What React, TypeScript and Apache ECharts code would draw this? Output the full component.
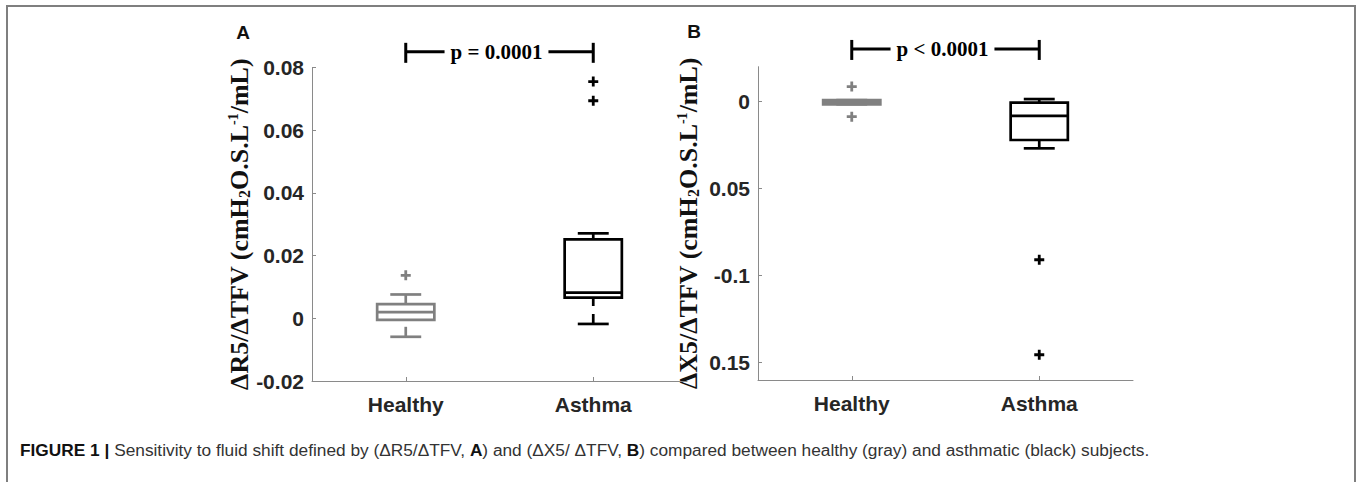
import React, { useEffect, useRef } from "react";
import * as echarts from "echarts";

// ---------- data ----------
const categories = ["Healthy", "Asthma"];

// box stats: [lowWhisker, q1, median, q3, highWhisker]
const boxAHealthy = [-0.0059, -0.0005, 0.002, 0.0045, 0.0076];
const boxAAsthma = [-0.0018, 0.0066, 0.0082, 0.0252, 0.0271];
const outliersAHealthy = [0.0137];
const outliersAAsthma = [0.0755, 0.0694];

const boxBHealthy = [-0.0016, -0.0016, -0.0004, 0.0008, 0.0008];
const boxBAsthma = [-0.0269, -0.0221, -0.0082, -0.0006, 0.0014];
const outliersBHealthy = [0.0086, -0.0087];
const outliersBAsthma = [-0.0909, -0.1455];

const yTicksA = [-0.02, 0, 0.02, 0.04, 0.06, 0.08];
const yTickLabelsA = ["-0.02", "0", "0.02", "0.04", "0.06", "0.08"];
const yTicksB = [-0.15, -0.1, -0.05, 0];
const yTickLabelsB = ["0.15", "-0.1", "0.05", "0"];

// significance brackets: [fromCategory, toCategory, yLevel]
const bracketA = [0, 1, 0.085];
const bracketB = [0, 1, 0.0302];
const bracketLabelA = "p = 0.0001";
const bracketLabelB = "p < 0.0001";

const GRAY = "#808080";
const BLACK = "#000000";
const AXIS = "#8a8a8a";
const PLUS =
  "path://M3.6,0 H6.4 V3.6 H10 V6.4 H6.4 V10 H3.6 V6.4 H0 V3.6 H3.6 Z";

function labelFor(ticks: number[], labels: string[]) {
  return (v: number) => {
    let best = 0;
    for (let i = 1; i < ticks.length; i++) {
      if (Math.abs(ticks[i] - v) < Math.abs(ticks[best] - v)) best = i;
    }
    return labels[best];
  };
}

function renderBox(params: any, api: any) {
  const cat = api.value(0);
  const lo = api.value(1);
  const q1 = api.value(2);
  const med = api.value(3);
  const q3 = api.value(4);
  const hi = api.value(5);
  const color = api.visual("color");
  const band = api.size([1, 0])[0];
  const bw = band * 0.305;
  const cw = band * 0.165;
  const pLo = api.coord([cat, lo]);
  const pQ1 = api.coord([cat, q1]);
  const pMed = api.coord([cat, med]);
  const pQ3 = api.coord([cat, q3]);
  const pHi = api.coord([cat, hi]);
  const cx = pMed[0];
  const lw = 2.7;
  const solid = { stroke: color, lineWidth: lw, fill: "none" };
  const dashed = { stroke: color, lineWidth: lw, lineDash: [10, 8] };
  return {
    type: "group",
    children: [
      {
        type: "line",
        shape: { x1: cx, y1: pHi[1], x2: cx, y2: pQ3[1] },
        style: dashed,
      },
      {
        type: "line",
        shape: { x1: cx, y1: pLo[1], x2: cx, y2: pQ1[1] },
        style: dashed,
      },
      {
        type: "line",
        shape: { x1: cx - cw / 2, y1: pHi[1], x2: cx + cw / 2, y2: pHi[1] },
        style: solid,
      },
      {
        type: "line",
        shape: { x1: cx - cw / 2, y1: pLo[1], x2: cx + cw / 2, y2: pLo[1] },
        style: solid,
      },
      {
        type: "rect",
        shape: {
          x: cx - bw / 2,
          y: pQ3[1],
          width: bw,
          height: pQ1[1] - pQ3[1],
        },
        style: solid,
      },
      {
        type: "line",
        shape: { x1: cx - bw / 2, y1: pMed[1], x2: cx + bw / 2, y2: pMed[1] },
        style: solid,
      },
    ],
  };
}

function makeBracketRenderer(label: string) {
  return (params: any, api: any) => {
    const p1 = api.coord([api.value(0), api.value(2)]);
    const p2 = api.coord([api.value(1), api.value(2)]);
    const y = p1[1];
    const st = { stroke: BLACK, lineWidth: 3 };
    return {
      type: "group",
      children: [
        { type: "line", shape: { x1: p1[0], y1: y, x2: p2[0], y2: y }, style: st },
        { type: "line", shape: { x1: p1[0], y1: y - 9, x2: p1[0], y2: y + 11 }, style: st },
        { type: "line", shape: { x1: p2[0], y1: y - 9, x2: p2[0], y2: y + 11 }, style: st },
        {
          type: "text",
          x: (p1[0] + p2[0]) / 2 - 3,
          y: y,
          style: {
            text: label,
            fill: BLACK,
            font: "bold 21px 'Liberation Serif', serif",
            align: "center",
            verticalAlign: "middle",
            backgroundColor: "#ffffff",
            padding: [0, 6],
          },
        },
      ],
    };
  };
}

const titleRich = {
  t: {
    fontFamily: "'Liberation Serif', serif",
    fontWeight: "bold",
    fontSize: 26,
    color: "#111",
  },
  s: {
    fontFamily: "'Liberation Serif', serif",
    fontWeight: "bold",
    fontSize: 16,
    color: "#111",
    verticalAlign: "bottom",
  },
  u: {
    fontFamily: "'Liberation Serif', serif",
    fontWeight: "bold",
    fontSize: 14,
    color: "#111",
    verticalAlign: "top",
  },
};

function makeYAxis(
  gridIndex: number,
  min: number,
  max: number,
  ticks: number[],
  labels: string[],
  name: string
) {
  return {
    type: "value",
    gridIndex,
    min,
    max,
    name,
    nameLocation: "middle",
    nameRotate: 90,
    nameGap: 57,
    nameTextStyle: { rich: titleRich },
    axisLine: { show: true, onZero: false, lineStyle: { color: AXIS, width: 1 } },
    axisTick: {
      show: true,
      inside: true,
      length: 4,
      customValues: ticks,
      lineStyle: { color: AXIS },
    },
    axisLabel: {
      customValues: ticks,
      formatter: labelFor(ticks, labels),
      fontFamily: "'Liberation Sans', Arial, sans-serif",
      fontWeight: "bold",
      fontSize: 21,
      color: "#262626",
      margin: 8,
    },
    splitLine: { show: false },
  };
}

function makeXAxis(gridIndex: number) {
  return {
    type: "category",
    gridIndex,
    data: categories,
    boundaryGap: true,
    axisLine: { show: true, onZero: false, lineStyle: { color: AXIS, width: 1 } },
    axisTick: {
      show: true,
      inside: true,
      length: 4,
      alignWithLabel: true,
      lineStyle: { color: AXIS },
    },
    axisLabel: {
      fontFamily: "'Liberation Sans', Arial, sans-serif",
      fontWeight: "bold",
      fontSize: 21,
      color: "#262626",
      margin: 13,
    },
    splitLine: { show: false },
  };
}

function outlierSeries(axis: number, cat: number, values: number[], color: string) {
  return {
    type: "scatter",
    xAxisIndex: axis,
    yAxisIndex: axis,
    symbol: PLUS,
    symbolSize: 10,
    itemStyle: { color, opacity: 1 },
    data: values.map((v) => [cat, v]),
    silent: true,
  };
}

function boxSeries(axis: number, cat: number, stats: number[], color: string) {
  return {
    type: "custom",
    xAxisIndex: axis,
    yAxisIndex: axis,
    renderItem: renderBox,
    itemStyle: { color },
    encode: { x: 0, y: [1, 2, 3, 4, 5] },
    data: [[cat, ...stats]],
    silent: true,
  };
}

export default function App() {
  const ref = useRef<HTMLDivElement>(null);
  useEffect(() => {
    if (!ref.current) return;
    const chart = echarts.init(ref.current, null, { renderer: "svg" });
    const option: any = {
      animation: false,
      backgroundColor: "#ffffff",
      grid: [
        { left: 312, top: 67.5, width: 375, height: 313.5 },
        { left: 758, top: 66.7, width: 375, height: 313.3 },
      ],
      xAxis: [makeXAxis(0), makeXAxis(1)],
      yAxis: [
        makeYAxis(
          0,
          -0.02,
          0.08,
          yTicksA,
          yTickLabelsA,
          "{t|ΔR5/ΔTFV (cmH}{s|2}{t|O.S.L}{u|-1}{t|/mL)}"
        ),
        makeYAxis(
          1,
          -0.16,
          0.02,
          yTicksB,
          yTickLabelsB,
          "{t|ΔX5/ΔTFV (cmH}{s|2}{t|O.S.L}{u|-1}{t|/mL)}"
        ),
      ],
      series: [
        boxSeries(0, 0, boxAHealthy, GRAY),
        boxSeries(0, 1, boxAAsthma, BLACK),
        boxSeries(1, 0, boxBHealthy, GRAY),
        boxSeries(1, 1, boxBAsthma, BLACK),
        outlierSeries(0, 0, outliersAHealthy, GRAY),
        outlierSeries(0, 1, outliersAAsthma, BLACK),
        outlierSeries(1, 0, outliersBHealthy, GRAY),
        outlierSeries(1, 1, outliersBAsthma, BLACK),
        {
          type: "custom",
          xAxisIndex: 0,
          yAxisIndex: 0,
          clip: false,
          renderItem: makeBracketRenderer(bracketLabelA),
          encode: { x: [0, 1], y: 2 },
          data: [bracketA],
          silent: true,
        },
        {
          type: "custom",
          xAxisIndex: 1,
          yAxisIndex: 1,
          clip: false,
          renderItem: makeBracketRenderer(bracketLabelB),
          encode: { x: [0, 1], y: 2 },
          data: [bracketB],
          silent: true,
        },
      ],
      graphic: [
        {
          type: "rect",
          shape: { x: 7, y: 6, width: 1348, height: 520 },
          style: { fill: "none", stroke: "#7f7f7f", lineWidth: 2 },
          silent: true,
        },
        {
          type: "text",
          x: 243,
          y: 32,
          style: {
            text: "A",
            font: "bold 19px 'Liberation Sans', Arial, sans-serif",
            fill: "#111",
            align: "center",
            verticalAlign: "middle",
          },
        },
        {
          type: "text",
          x: 694,
          y: 31,
          style: {
            text: "B",
            font: "bold 19px 'Liberation Sans', Arial, sans-serif",
            fill: "#111",
            align: "center",
            verticalAlign: "middle",
          },
        },
        {
          type: "text",
          x: 20,
          y: 450,
          style: {
            text:
              "{b|FIGURE 1 |} Sensitivity to fluid shift defined by (ΔR5/ΔTFV, {b|A}) and (ΔX5/ ΔTFV, {b|B}) compared between healthy (gray) and asthmatic (black) subjects.",
            font: "17.3px 'Liberation Sans', Arial, sans-serif",
            fill: "#333",
            verticalAlign: "middle",
            rich: {
              b: {
                fontFamily: "'Liberation Sans', Arial, sans-serif",
                fontWeight: "bold",
                fontSize: 17.3,
                fill: "#111",
              },
            },
          },
        },
      ],
    };
    chart.setOption(option);
    return () => chart.dispose();
  }, []);
  return (
    <div
      ref={ref}
      style={{ position: "absolute", left: 0, top: 0, width: 1357, height: 482 }}
    />
  );
}
